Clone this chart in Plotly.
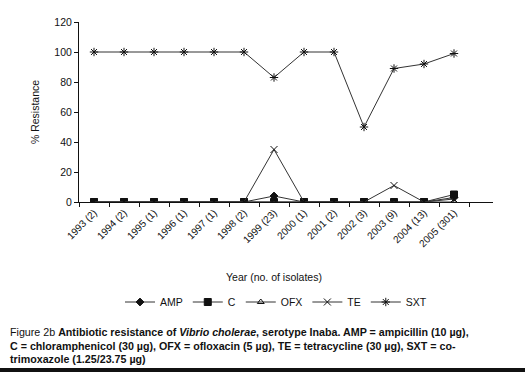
import plotly.graph_objects as go

categories = ["1993 (2)", "1994 (2)", "1995 (1)", "1996 (1)", "1997 (1)", "1998 (2)",
              "1999 (23)", "2000 (1)", "2001 (2)", "2002 (3)", "2003 (9)", "2004 (13)", "2005 (301)"]
amp = [0, 0, 0, 0, 0, 0, 4, 0, 0, 0, 0, 0, 3]
c_vals = [0, 0, 0, 0, 0, 0, 0, 0, 0, 0, 0, 0, 5]
ofx = [0, 0, 0, 0, 0, 0, 0, 0, 0, 0, 0, 0, 0]
te = [0, 0, 0, 0, 0, 0, 35, 0, 0, 0, 11, 0, 2]
sxt = [100, 100, 100, 100, 100, 100, 83, 100, 100, 50, 89, 92, 99]

series = [
    ("AMP", amp, "diamond", 6),
    ("C", c_vals, "square", 7),
    ("OFX", ofx, "triangle-up-open", 6),
    ("TE", te, "x-thin-open", 7),
    ("SXT", sxt, "asterisk-open", 7),
]

W, H = 525, 372
L, R, T, B = 79, 32, 22, 170
pw, ph = W - L - R, H - T - B

def px_x(x):
    return (x - L) / pw

def px_y(y):
    return (H - B - y) / ph

font = "Liberation Sans, Arial, sans-serif"
fig = go.Figure()
for name, vals, sym, size in series:
    fig.add_trace(go.Scatter(
        x=categories, y=vals, name=name, mode="lines+markers",
        line=dict(color="#333333", width=1),
        marker=dict(symbol=sym, size=size, color="#111111",
                    line=dict(color="#111111", width=1)),
    ))

fig.update_layout(
    width=W, height=H,
    margin=dict(l=L, r=R, t=T, b=B, autoexpand=False),
    paper_bgcolor="white", plot_bgcolor="white",
    font=dict(family=font, size=10, color="#111111"),
    showlegend=True,
    legend=dict(orientation="h", x=px_x(276), y=px_y(302), xanchor="center", yanchor="middle",
                font=dict(size=10.5), itemwidth=30, tracegroupgap=0),
    xaxis=dict(type="category", range=[-0.5, 13.3], showline=True, linecolor="#111111",
               linewidth=1, ticks="outside", tickson="boundaries", ticklen=4,
               tickcolor="#111111", tickangle=-45, tickfont=dict(size=10),
               showgrid=False, zeroline=False, automargin=False),
    yaxis=dict(range=[0, 120], tickvals=[0, 20, 40, 60, 80, 100, 120], showline=True,
               linecolor="#111111", linewidth=1, ticks="outside", ticklen=4,
               tickcolor="#111111", tickfont=dict(size=10.5), showgrid=False, zeroline=False,
               automargin=False,
               title=dict(text="% Resistance", font=dict(size=10.5), standoff=12)),
)

fig.add_annotation(text="Year (no. of isolates)", xref="paper", yref="paper",
                   x=px_x(274), y=px_y(277), showarrow=False, xanchor="center", yanchor="middle",
                   font=dict(size=10.5))

caption = [
    "Figure 2b <b>Antibiotic resistance of <i>Vibrio cholerae</i>, serotype Inaba. AMP = ampicillin (10 µg),</b>",
    "<b>C = chloramphenicol (30 µg), OFX = ofloxacin (5 µg), TE = tetracycline (30 µg), SXT = co-</b>",
    "<b>trimoxazole (1.25/23.75 µg)</b>",
]
for i, line in enumerate(caption):
    fig.add_annotation(text=line, xref="paper", yref="paper", x=px_x(8), y=px_y(332 + 13.5 * i),
                       showarrow=False, xanchor="left", yanchor="middle", align="left",
                       font=dict(size=10.7))

fig.add_shape(type="rect", xref="paper", yref="paper", x0=px_x(0), x1=px_x(W),
              y0=px_y(372), y1=px_y(368), fillcolor="#111111", line=dict(width=0))

fig.write_html("out.html", config={"displayModeBar": False},
               post_script="document.body.style.margin='0';")
